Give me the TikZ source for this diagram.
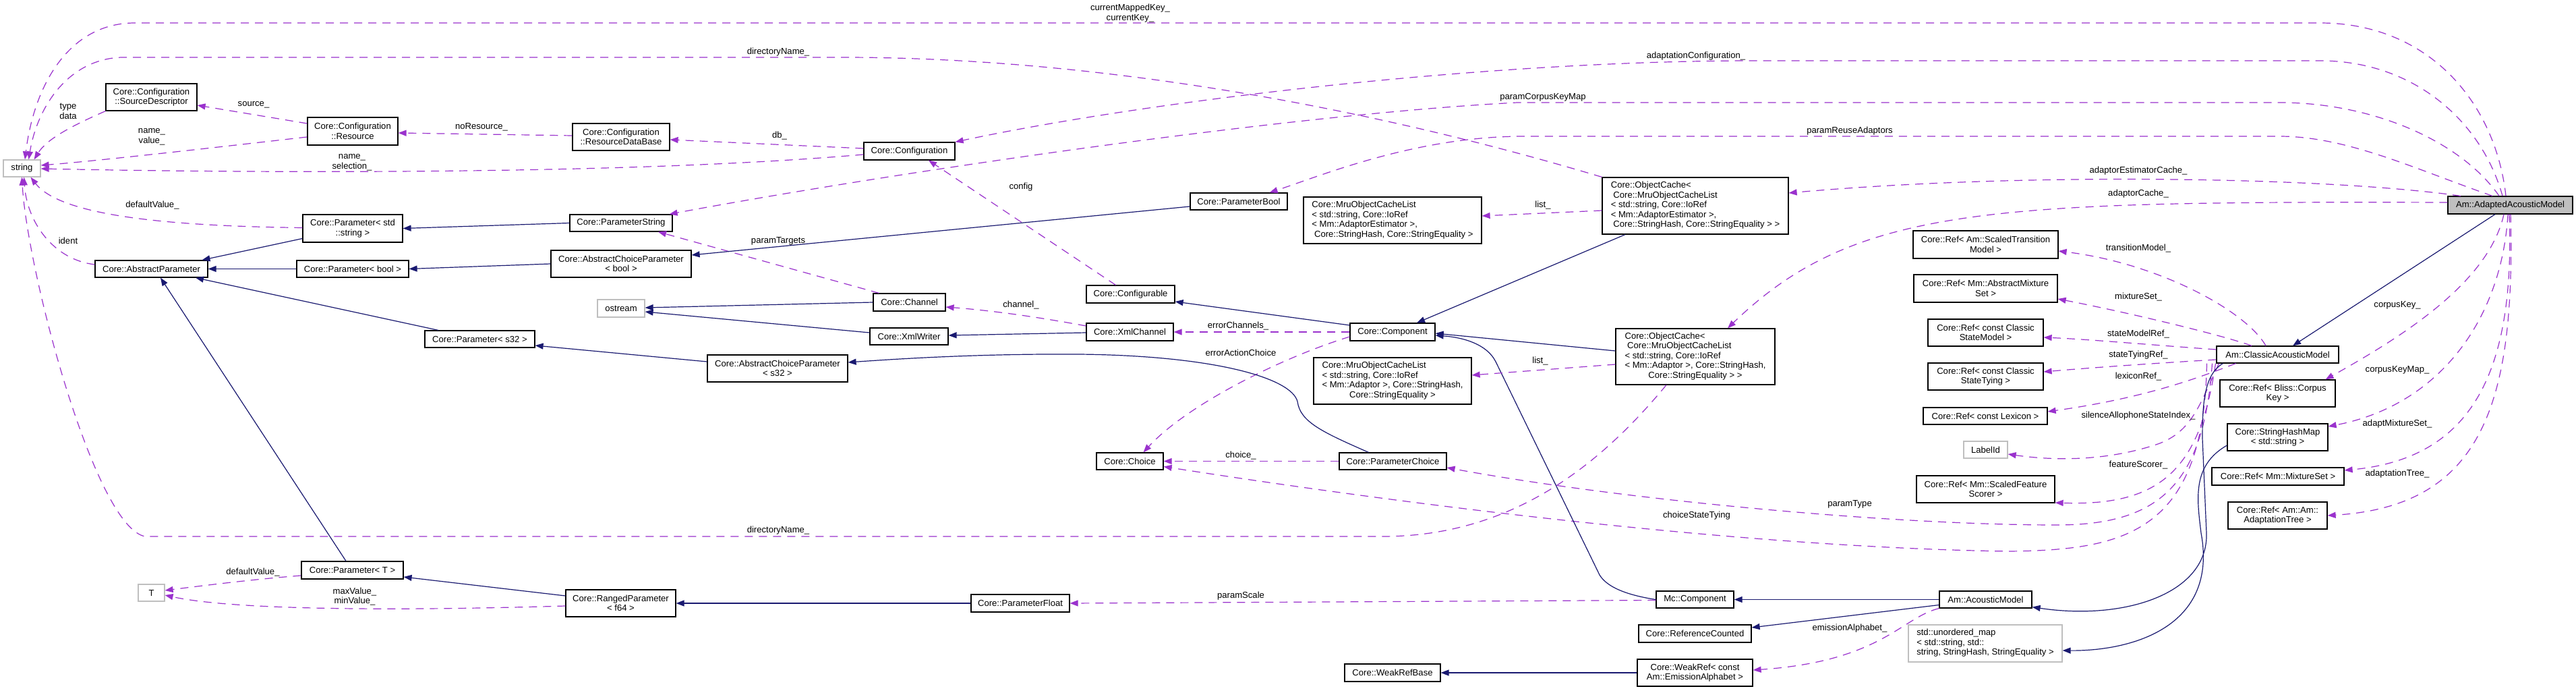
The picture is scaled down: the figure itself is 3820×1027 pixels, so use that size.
\documentclass[tikz,border=0pt]{standalone}
\usepackage{fontspec}
\setmainfont{Liberation Sans}
\usetikzlibrary{arrows.meta}
\definecolor{navyc}{HTML}{191970}
\definecolor{orchidc}{HTML}{9A32CD}
\definecolor{grayc}{HTML}{BFBFBF}
\newcommand{\lastcell}[1]{\multicolumn{1}{@{}c@{}}{#1}}
\begin{document}
\begin{tikzpicture}[x=1pt,y=-1pt,
  every node/.style={font=\fontsize{13.1}{14.5}\selectfont, inner sep=0pt, align=center},
  cls/.style={draw=black, line width=1.2pt, fill=white},
  ext/.style={draw=grayc, line width=1.2pt, fill=white},
  inh/.style={draw=navyc, line width=1.2pt, -{Triangle[length=12pt,width=9pt]}},
  dep/.style={draw=orchidc, line width=1.2pt, dash pattern=on 12pt off 9pt, -{Triangle[length=12pt,width=9pt]}},
  lbl/.style={}]
\fill[white] (0,0) rectangle (3820,1027);
\useasboundingbox (0,0) rectangle (3820,1027);

% ---------------- nodes ----------------
\node[ext,minimum width=55pt,minimum height=25pt] (str) at (32.5,249.5) {string};
\node[cls,minimum width=135pt,minimum height=40pt] (sd) at (224.5,144) {Core::Configuration\\::SourceDescriptor};
\node[cls,minimum width=134pt,minimum height=41pt] (res) at (523,194.5) {Core::Configuration\\::Resource};
\node[cls,minimum width=148pt,minimum height=41pt] (pstr) at (523,338.5) {Core::Parameter< std\\::string >};
\node[cls,minimum width=167pt,minimum height=25pt] (ap) at (224.5,398.5) {Core::AbstractParameter};
\node[cls,minimum width=166pt,minimum height=25pt] (pbool) at (523,398.5) {Core::Parameter< bool >};
\node[cls,minimum width=163pt,minimum height=25pt] (ps32) at (711.5,502.5) {Core::Parameter< s32 >};
\node[cls,minimum width=144pt,minimum height=40pt] (rdb) at (921,203) {Core::Configuration\\::ResourceDataBase};
\node[cls,minimum width=152pt,minimum height=25pt] (parstr) at (921,330.5) {Core::ParameterString};
\node[cls,minimum width=208pt,minimum height=40pt] (acpb) at (921,391) {Core::AbstractChoiceParameter\\< bool >};
\node[ext,minimum width=70pt,minimum height=26pt] (ostr) at (921,457) {ostream};
\node[cls,minimum width=135pt,minimum height=26pt] (conf) at (1348.5,224) {Core::Configuration};
\node[cls,minimum width=144pt,minimum height=25pt] (pbl) at (1837,298.5) {Core::ParameterBool};
\node[cls,minimum width=131pt,minimum height=26pt] (cfgb) at (1676.5,436) {Core::Configurable};
\node[cls,minimum width=107pt,minimum height=26pt] (chan) at (1348.5,448) {Core::Channel};
\node[cls,minimum width=116pt,minimum height=25pt] (xw) at (1348,498.5) {Core::XmlWriter};
\node[cls,minimum width=129pt,minimum height=26pt] (xch) at (1675.5,492) {Core::XmlChannel};
\node[cls,minimum width=264pt,minimum height=69pt] (mru1) at (2065,326.5) {\begin{tabular}{@{}l@{}}Core::MruObjectCacheList\\< std::string, Core::IoRef\\< Mm::AdaptorEstimator >,\\\ Core::StringHash, Core::StringEquality >\end{tabular}};
\node[cls,minimum width=276pt,minimum height=84pt] (oc1) at (2514,305) {\begin{tabular}{@{}l@{}}Core::ObjectCache<\\\ Core::MruObjectCacheList\\< std::string, Core::IoRef\\< Mm::AdaptorEstimator >,\\\ Core::StringHash, Core::StringEquality > >\end{tabular}};
\node[cls,minimum width=126pt,minimum height=26pt] (comp) at (2065,492) {Core::Component};
\node[cls,minimum width=236pt,minimum height=83pt] (oc2) at (2514,528.5) {\begin{tabular}{@{}l@{}}Core::ObjectCache<\\\ Core::MruObjectCacheList\\< std::string, Core::IoRef\\< Mm::Adaptor >, Core::StringHash,\\\lastcell{Core::StringEquality > >}\end{tabular}};
\node[cls,minimum width=234pt,minimum height=69pt] (mru2) at (2065,564.5) {\begin{tabular}{@{}l@{}}Core::MruObjectCacheList\\< std::string, Core::IoRef\\< Mm::Adaptor >, Core::StringHash,\\\lastcell{Core::StringEquality >}\end{tabular}};
\node[cls,minimum width=159pt,minimum height=25pt] (pchoice) at (2065.5,683.5) {Core::ParameterChoice};
\node[cls,minimum width=99pt,minimum height=25pt] (choice) at (1675.5,683.5) {Core::Choice};
\node[cls,minimum width=208pt,minimum height=40pt] (acps32) at (1153,546) {Core::AbstractChoiceParameter\\< s32 >};
\node[cls,minimum width=151pt,minimum height=26pt] (pT) at (522.5,845) {Core::Parameter< T >};
\node[ext,minimum width=39pt,minimum height=25pt] (T) at (224.5,878.5) {T};
\node[cls,minimum width=163pt,minimum height=40pt] (rp) at (920.5,894) {Core::RangedParameter\\< f64 >};
\node[cls,minimum width=146pt,minimum height=26pt] (pfloat) at (1513,894) {Core::ParameterFloat};
\node[cls,minimum width=115pt,minimum height=25pt] (mcc) at (2513.5,888.5) {Mc::Component};
\node[cls,minimum width=167pt,minimum height=26pt] (refc) at (2513.5,939) {Core::ReferenceCounted};
\node[cls,minimum width=142pt,minimum height=26pt] (wrb) at (2065,997) {Core::WeakRefBase};
\node[cls,minimum width=171pt,minimum height=40pt] (wr) at (2513.5,997) {Core::WeakRef< const\\Am::EmissionAlphabet >};
\node[cls,minimum width=137pt,minimum height=25pt] (am) at (2944.5,888.5) {Am::AcousticModel};
\node[ext,minimum width=228pt,minimum height=55pt] (umap) at (2944,953.5) {\begin{tabular}{@{}l@{}}std::unordered\_map\\< std::string, std::\\string, StringHash, StringEquality >\end{tabular}};
\node[cls,minimum width=215pt,minimum height=41pt] (rtm) at (2944.5,362.5) {Core::Ref< Am::ScaledTransition\\Model >};
\node[cls,minimum width=213pt,minimum height=41pt] (rams) at (2944.5,427.5) {Core::Ref< Mm::AbstractMixture\\Set >};
\node[cls,minimum width=171pt,minimum height=40pt] (rcsm) at (2944.5,493) {Core::Ref< const Classic\\StateModel >};
\node[cls,minimum width=171pt,minimum height=40pt] (rcst) at (2944.5,558) {Core::Ref< const Classic\\StateTying >};
\node[cls,minimum width=184pt,minimum height=25pt] (rlex) at (2944,616.5) {Core::Ref< const Lexicon >};
\node[ext,minimum width=65pt,minimum height=25pt] (lid) at (2944.5,666.5) {LabelId};
\node[cls,minimum width=205pt,minimum height=40pt] (rsfs) at (2944.5,725) {Core::Ref< Mm::ScaledFeature\\Scorer >};
\node[cls,minimum width=185pt,minimum height=26pt,fill=grayc] (aam) at (3722.5,304) {Am::AdaptedAcousticModel};
\node[cls,minimum width=181pt,minimum height=25pt] (cam) at (3377.5,525.5) {Am::ClassicAcousticModel};
\node[cls,minimum width=171pt,minimum height=40pt] (rck) at (3377.5,583) {Core::Ref< Bliss::Corpus\\Key >};
\node[cls,minimum width=149pt,minimum height=40pt] (shm) at (3377.5,648) {Core::StringHashMap\\< std::string >};
\node[cls,minimum width=196pt,minimum height=26pt] (rms) at (3378,706) {Core::Ref< Mm::MixtureSet >};
\node[cls,minimum width=147pt,minimum height=40pt] (rat) at (3377.5,764) {Core::Ref< Am::Am::\\AdaptationTree >};

% ---------------- edges from AAM (top) ----------------
\draw[dep] ([xshift=-6.5pt]aam.north) .. controls (3700,150) and (3600,34) .. (3440,34) -- (200,34) .. controls (100,34) and (50,130) .. ([xshift=4.5pt]str.north);
\draw[dep] ([xshift=-11.5pt]aam.north) .. controls (3680,180) and (3580,90) .. (3440,90) -- (2600,90) .. controls (2200,90) and (1700,150) .. (conf.north east);
\draw[dep] ([xshift=-16.5pt]aam.north) .. controls (3650,210) and (3520,152) .. (3380,152) -- (2250,152) .. controls (1900,170) and (1300,260) .. ([xshift=-5pt]parstr.north east);
\draw[dep] ([xshift=-26.5pt]aam.north) .. controls (3580,250) and (3480,202) .. (3380,202) -- (2260,202) .. controls (2100,202) and (1960,260) .. ([xshift=-27pt]pbl.north east);
\draw[dep] ([xshift=-73.5pt]aam.north) .. controls (3450,262) and (3000,255) .. ([yshift=19pt]oc1.east);
\draw[dep] ([yshift=4pt]aam.west) .. controls (2950,298) and (2750,305) .. ([xshift=48pt]oc2.north);
% ---------------- edges from AAM (bottom) ----------------
\draw[dep] ([xshift=-9.5pt]aam.south) .. controls (3690,420) and (3560,500) .. ([xshift=71pt]rck.north);
\draw[dep] ([xshift=-3.5pt]aam.south) .. controls (3710,470) and (3620,600) .. ([yshift=16pt]shm.east);
\draw[dep] ([xshift=-1.5pt]aam.south) .. controls (3730,560) and (3660,680) .. ([yshift=9pt]rms.east);
\draw[dep] ([xshift=0.5pt]aam.south) .. controls (3730,600) and (3680,750) .. (rat.east);
\draw[inh] ([xshift=-22.5pt]aam.south) -- ([xshift=22.5pt]cam.north);

% ---------------- edges from ClassicAcousticModel ----------------
\draw[dep] ([xshift=-17.5pt]cam.north) .. controls (3330,460) and (3200,390) .. ([yshift=-9.5pt]rtm.east);
\draw[dep] ([xshift=-38.5pt]cam.north) .. controls (3290,495) and (3150,462) .. ([yshift=-15.5pt]rams.east);
\draw[dep] ([yshift=7.5pt]cam.west) .. controls (3200,512) and (3100,503) .. ([yshift=-7pt]rcsm.east);
\draw[dep] ([yshift=-7.5pt]cam.west) .. controls (3200,538) and (3100,545) .. ([yshift=7pt]rcst.east);
\draw[dep] ([xshift=-62pt]cam.south) .. controls (3260,560) and (3180,590) .. ([yshift=6.5pt]rlex.east);
\draw[dep] ([xshift=-87pt]cam.south) .. controls (3262,600) and (3250,640) .. (3200,658) .. controls (3120,685) and (3040,682) .. ([yshift=-6.5pt]lid.east);
\draw[dep] ([xshift=-92pt]cam.south) .. controls (3262,700) and (3200,750) .. ([yshift=-20pt]rsfs.east);
\draw[dep] ([xshift=-97pt]cam.south) .. controls (3268,720) and (3200,778) .. (3050,778) .. controls (2800,778) and (2400,740) .. ([yshift=-9.5pt]pchoice.east);
\draw[dep] ([xshift=-105pt]cam.south) .. controls (3268,790) and (3150,815) .. (2980,817) .. controls (2600,812) and (2100,750) .. ([yshift=-8pt]choice.east);
\draw[inh] ([xshift=-81pt]cam.south) .. controls (3268,555) and (3266,600) .. (3266,650) -- (3272,790) .. controls (3275,880) and (3150,920) .. ([yshift=2pt]am.south east);
\draw[inh] ([yshift=-12pt]shm.west) .. controls (3250,690) and (3258,740) .. (3264,790) .. controls (3290,930) and (3160,965) .. ([yshift=-10.5pt]umap.east);

% ---------------- AcousticModel / Mc::Component ----------------
\draw[inh] (am.west) -- (mcc.east);
\draw[inh] ([yshift=-8pt]am.west) -- ([yshift=9pt]refc.east);
\draw[dep] (am.south west) .. controls (2820,915) and (2790,980) .. ([yshift=4pt]wr.east);
\draw[inh] (wr.west) -- (wrb.east);
\draw[inh] (mcc.west) .. controls (2400,880) and (2380,865) .. (2372,852) -- (2218,536) .. controls (2205,510) and (2170,500) .. ([yshift=-5pt]comp.east);
\draw[dep] ([yshift=-1pt]mcc.west) -- (pfloat.east);

% ---------------- ObjectCaches ----------------
\draw[inh] ([xshift=-104pt]oc1.south) -- ([xshift=36pt]comp.north);
\draw[inh] ([yshift=8.5pt]oc2.west) -- ([yshift=-2pt]comp.east);
\draw[dep] ([yshift=-7pt]oc1.west) -- ([yshift=6.5pt]mru1.east);
\draw[dep] ([yshift=-11.5pt]oc2.west) -- ([yshift=8.5pt]mru2.east);
\draw[dep] ([xshift=-43pt]oc2.south) .. controls (2380,680) and (2250,795) .. (2050,795) -- (215,795) .. controls (140,780) and (40,400) .. (str.south);
\draw[dep] (oc1.north west) .. controls (2000,150) and (1600,85) .. (1250,85) -- (180,85) .. controls (100,88) and (55,160) .. ([xshift=10pt]str.north);

% ---------------- Component & co ----------------
\draw[inh] ([yshift=10pt]comp.west) -- ([yshift=-11pt]cfgb.east);
\draw[dep] (comp.west) -- (xch.east);
\draw[dep] ([yshift=-7pt]comp.west) .. controls (1900,530) and (1760,600) .. ([xshift=20pt]choice.north);
\draw[dep] (pchoice.west) -- (choice.east);
\draw[inh] ([yshift=-1pt]xch.west) -- ([yshift=1.5pt]xw.east);
\draw[dep] ([yshift=9pt]xch.west) .. controls (1540,470) and (1470,460) .. ([yshift=-7pt]chan.east);
\draw[inh] (chan.west) -- ([yshift=1pt]ostr.east);
\draw[inh] ([yshift=5.5pt]xw.west) -- ([yshift=-5pt]ostr.east);
\draw[dep] ([xshift=-22pt]cfgb.north) -- ([xshift=28.5pt]conf.south);
\draw[dep] ([xshift=-45pt]chan.north) -- ([xshift=55pt]parstr.south);
\draw[inh] ([yshift=-7.5pt]pbl.west) -- ([yshift=13pt]acpb.east);

% ---------------- Configuration chain ----------------
\draw[dep] ([yshift=4pt]conf.west) -- ([yshift=-4pt]rdb.east);
\draw[dep] ([yshift=2pt]rdb.west) -- ([yshift=-2.5pt]res.east);
\draw[dep] ([yshift=11.5pt]res.west) -- ([yshift=-12pt]sd.east);
\draw[dep] (sd.south west) .. controls (110,185) and (70,205) .. ([xshift=-10pt]str.north east);
\draw[dep] ([yshift=-8.5pt]res.west) .. controls (350,215) and (150,238) .. ([yshift=4.5pt]str.east);
\draw[dep] ([yshift=-5pt]conf.west) .. controls (900,262) and (300,255) .. ([yshift=-0.5pt]str.east);

% ---------------- Parameters ----------------
\draw[dep] ([yshift=1pt]pstr.west) .. controls (250,335) and (90,320) .. ([xshift=13pt]str.south);
\draw[dep] ([yshift=6.5pt]ap.west) .. controls (80,385) and (40,330) .. ([xshift=3pt]str.south);
\draw[inh] (parstr.west) -- (pstr.east);
\draw[inh] (acpb.west) -- (pbool.east);
\draw[inh] ([yshift=-15pt]pstr.west) -- ([xshift=75pt]ap.north);
\draw[inh] (pbool.west) -- (ap.east);
\draw[inh] ([xshift=-61.5pt]ps32.north) -- ([xshift=65.5pt]ap.south);
\draw[inh] ([xshift=-9.5pt]pT.north) -- ([xshift=13.5pt]ap.south);
\draw[inh] ([yshift=10pt]acps32.west) -- ([yshift=-9.5pt]ps32.east);
\draw[inh] ([xshift=-36pt]pchoice.north) .. controls (1960,640) and (1928,625) .. (1924,595) .. controls (1915,560) and (1800,527) .. (1600,525) .. controls (1450,524) and (1330,532) .. ([yshift=9pt]acps32.east);
\draw[inh] ([yshift=11pt]rp.west) -- ([yshift=-10pt]pT.east);
\draw[inh] (pfloat.west) -- (rp.east);
\draw[dep] ([yshift=-8pt]pT.west) .. controls (380,858) and (300,868) .. ([yshift=3.5pt]T.east);
\draw[dep] ([yshift=-4pt]rp.west) .. controls (600,905) and (350,905) .. ([yshift=-3.5pt]T.east);

% ---------------- labels ----------------
\node[lbl] (l01) at (1676,19.5) {currentMappedKey\_\\currentKey\_};
\node[lbl] (l02) at (1154,77) {directoryName\_};
\node[lbl] (l03) at (2515,83) {adaptationConfiguration\_};
\node[lbl] (l04) at (2288,144) {paramCorpusKeyMap};
\node[lbl] (l05) at (2743,194) {paramReuseAdaptors};
\node[lbl] (l06) at (3171,253) {adaptorEstimatorCache\_};
\node[lbl] (l07) at (3171,287) {adaptorCache\_};
\node[lbl] (l08) at (3171,368) {transitionModel\_};
\node[lbl] (l09) at (3171,440) {mixtureSet\_};
\node[lbl] (l10) at (3171,495) {stateModelRef\_};
\node[lbl] (l11) at (3171,526) {stateTyingRef\_};
\node[lbl] (l12) at (3171,558) {lexiconRef\_};
\node[lbl] (l13) at (3171,616) {silenceAllophoneStateIndex\_};
\node[lbl] (l14) at (3171,689) {featureScorer\_};
\node[lbl] (l15) at (3555,452) {corpusKey\_};
\node[lbl] (l16) at (3555,548) {corpusKeyMap\_};
\node[lbl] (l17) at (3555,628) {adaptMixtureSet\_};
\node[lbl] (l18) at (3555,702) {adaptationTree\_};
\node[lbl] (l19) at (2288,304) {list\_};
\node[lbl] (l20) at (2284,535) {list\_};
\node[lbl] (l21) at (1514,277) {config};
\node[lbl] (l22) at (1514,452) {channel\_};
\node[lbl] (l23) at (1836,483) {errorChannels\_};
\node[lbl] (l24) at (1840,523) {errorActionChoice};
\node[lbl] (l25) at (1840,675) {choice\_};
\node[lbl] (l26) at (1840,883) {paramScale};
\node[lbl] (l27) at (2516,764) {choiceStateTying};
\node[lbl] (l28) at (2743,747) {paramType};
\node[lbl] (l29) at (2743,931) {emissionAlphabet\_};
\node[lbl] (l30) at (1156,201) {db\_};
\node[lbl] (l31) at (714,188) {noResource\_};
\node[lbl] (l32) at (1154,357) {paramTargets};
\node[lbl] (l33) at (376,155) {source\_};
\node[lbl] (l34) at (101,165) {type\\data};
\node[lbl] (l35) at (225,203) {name\_\\value\_};
\node[lbl] (l36) at (522,241) {name\_\\selection\_};
\node[lbl] (l37) at (226,304) {defaultValue\_};
\node[lbl] (l38) at (101,357) {ident};
\node[lbl] (l39) at (1154,786) {directoryName\_};
\node[lbl] (l40) at (375,848) {defaultValue\_};
\node[lbl] (l41) at (526,884) {maxValue\_\\minValue\_};
\end{tikzpicture}
\end{document}
